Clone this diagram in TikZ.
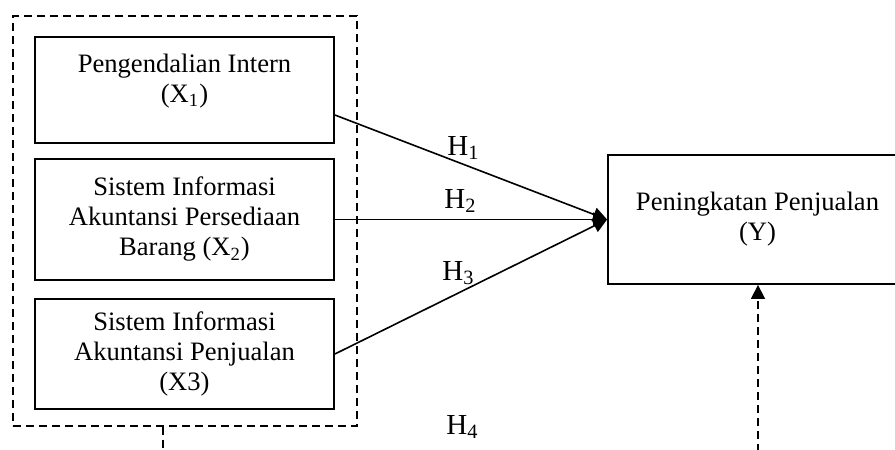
\documentclass[tikz,border=0pt]{standalone}
\usepackage{fontspec}
\setmainfont{Liberation Serif}
\usetikzlibrary{arrows.meta,positioning}
\tikzset{var box/.style={rectangle,draw,line width=0.9pt,minimum width=149.5pt,inner sep=0pt},
         box text/.style={align=center,inner sep=0pt,font=\fontsize{13.3}{15}\selectfont},
         group box/.style={rectangle,draw,dashed,dash pattern=on 4pt off 2.5pt,line width=0.8pt,inner sep=0pt},
         hyp label/.style={inner sep=0pt,anchor=base west,font=\fontsize{14.5}{16}\selectfont},
         link/.style={line width=0.8pt,-{Triangle[length=7pt,width=7pt]}},
         dashed link/.style={link,dash pattern=on 4pt off 2.5pt},
}
\begin{document}
\begin{tikzpicture}[x=0.5pt,y=-0.5pt]

\clip (0,0) rectangle (895,450);

% independent variables
\node[group box,minimum width=172pt,minimum height=205pt] (group) at (185,221) {};
\node[var box,minimum height=53pt] (x1) at (184.5,90) {};
\node[box text] (x1 text) at (184.5,81) {Pengendalian Intern\\(X\textsubscript{1})};
\node[var box,box text,minimum height=60.5pt] (x2) at (184.5,219.5)
    {Sistem Informasi\\Akuntansi Persediaan\\Barang (X\textsubscript{2})};
\node[var box,box text,minimum height=55pt] (x3) at (184.5,354)
    {Sistem Informasi\\Akuntansi Penjualan\\(X3)};

% dependent variable
\node[var box,box text,minimum height=64.5pt] (y) at (757.5,219.5)
    {Peningkatan Penjualan\\(Y)};

\draw[link] ([yshift=-12.5pt]x1.east) -- (y.west);
\draw[link] (x2.east) -- (y.west);
\draw[link] (x3.east) -- (y.west);

\node[hyp label] (h1) at (447,155) {H\textsubscript{1}};
\node[hyp label] (h2) at (444,208) {H\textsubscript{2}};
\node[hyp label] (h3) at (442,280) {H\textsubscript{3}};
\node[hyp label] (h4) at (446,434) {H\textsubscript{4}};

% simultaneous effect
\coordinate (group foot) at (163,452);
\coordinate (y foot) at (758,452);
\draw[line width=0.8pt,dash pattern=on 4pt off 2.5pt] (group.south -| group foot) -- (group foot);
\draw[dashed link] (y foot) -- (y.south -| y foot);
\end{tikzpicture}
\end{document}
